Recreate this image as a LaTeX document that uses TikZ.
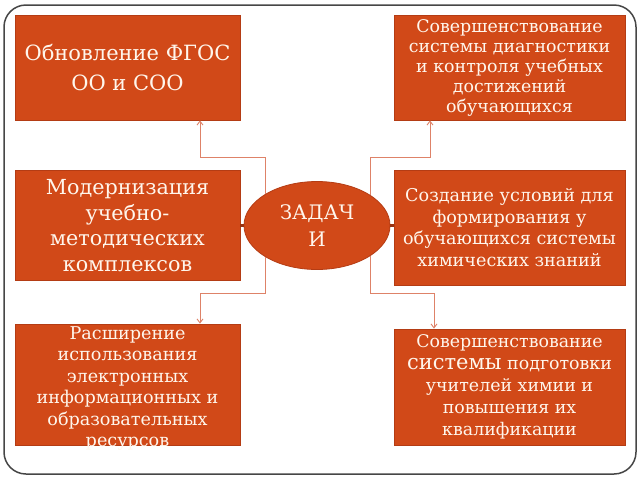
\documentclass[tikz,border=0pt]{standalone}
\usepackage{fontspec}
\setmainfont{DejaVu Serif}
\usetikzlibrary{shapes.geometric,arrows.meta}
\definecolor{taskred}{RGB}{209,73,24}
\definecolor{taskedge}{RGB}{180,60,20}
\definecolor{linkred}{RGB}{222,130,104}
\definecolor{paper}{RGB}{255,246,236}
\newcommand{\setfs}[2]{\fontsize{#1}{#2}\selectfont}
\tikzstyle{tb}=[shape=rectangle,
                fill=taskred,
                draw=taskedge,
                text=paper,
                align=center,
                inner sep=2pt,
                line width=0.8pt]
\tikzstyle{ct}=[shape=ellipse,
                fill=taskred,
                draw=taskedge,
                text=paper,
                align=center,
                inner sep=0pt,
                minimum width=146pt,
                minimum height=88pt,
                line width=0.8pt]
\tikzstyle{lk}=[draw=linkred, line width=0.9pt]
\tikzstyle{stub}=[draw=taskedge!85!black, line width=3pt]

\begin{document}
\begin{tikzpicture}[>={Straight Barb[length=4pt,width=6pt]},x=1pt,y=-1pt]
\useasboundingbox (0,0) rectangle (640,480);

% frame
\draw[gray!55!black, line width=1.5pt, rounded corners=22pt] (4,5) rectangle (636,474);

% task boxes
\node[tb, minimum width=225pt, minimum height=105pt, font=\setfs{21}{30}] (b1) at (127.5,67.5)
  {Обновление ФГОС\\ОО и СОО};
\node[tb, minimum width=231pt, minimum height=105pt, font=\setfs{17.4}{20}] (b2) at (509.5,67.5)
  {Совершенствование\\системы диагностики\\и контроля учебных\\достижений\\обучающихся};
\node[tb, minimum width=225pt, minimum height=110pt, font=\setfs{20.7}{25.5}] (b3) at (127.5,225.5)
  {Модернизация\\учебно-\\методических\\комплексов};
\node[tb, minimum width=231pt, minimum height=115pt, font=\setfs{17.6}{21.5}] (b4) at (509.5,227.5)
  {Создание условий для\\формирования у\\обучающихся системы\\химических знаний};
\node[tb, minimum width=225pt, minimum height=121pt, inner ysep=-12pt, font=\setfs{17.6}{21.5}] (b5) at (127.5,384.5)
  {\rule{0pt}{21pt}Расширение\\использования\\электронных\\информационных и\\образовательных\\ресурсов};
\node[tb, minimum width=231pt, minimum height=116pt, font=\setfs{17.4}{22}] (b6) at (509.5,387)
  {Совершенствование\\{\setfs{21}{22}системы} подготовки\\учителей химии и\\повышения их\\квалификации};

% centre
\node[ct, font=\setfs{20}{27}] (zad) at (317,225.5) {ЗАДАЧ\\И};

% bends
\coordinate (k1) at (200,157);
\coordinate (k2) at (430,157);
\coordinate (k3) at (200,293);
\coordinate (k4) at (434,293);

% paths
\draw[lk,->] (zad.148) |- (k1) -- (k1 |- b1.south);
\draw[lk,->] (zad.30) |- (k2) -- (k2 |- b2.south);
\draw[lk,->] (zad.212) |- (k3) -- (k3 |- b5.north);
\draw[lk,->] (zad.330) |- (k4) -- (k4 |- b6.north);

\draw[stub] (b3.east) -- (zad.west);
\draw[stub] (zad.east) -- (zad.east -| b4.west);

\end{tikzpicture}
\end{document}
